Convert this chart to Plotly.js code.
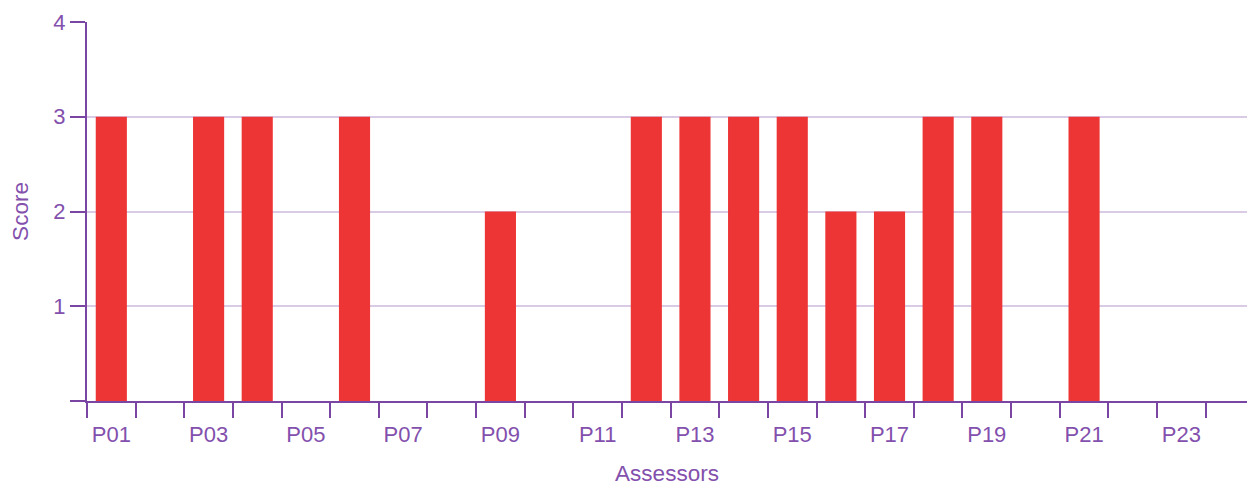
<!DOCTYPE html>
<html>
<head>
<meta charset="utf-8">
<script src="https://cdn.plot.ly/plotly-3.0.1.min.js"></script>
<style>html,body{margin:0;padding:0;background:#fff;}#chart{width:1247px;height:486px;}</style>
</head>
<body>
<div id="chart"></div>
<script>
const assessors = ["P01","P02","P03","P04","P05","P06","P07","P08","P09","P10","P11","P12","P13","P14","P15","P16","P17","P18","P19","P20","P21","P22","P23","P24"];
const scores = [3,0,3,3,0,3,0,0,2,0,0,3,3,3,3,2,2,3,3,0,3,0,0,0];
const tickLabels = ["P01","","P03","","P05","","P07","","P09","","P11","","P13","","P15","","P17","","P19","","P21","","P23",""];

const purple = "#7B45A3";
const textColor = "#8350AD";
const fontFam = "'Liberation Sans', Arial, sans-serif";

Plotly.newPlot("chart", [{
  type: "bar",
  x: assessors,
  y: scores,
  marker: {color: "#EE3535"},
  hoverinfo: "x+y"
}], {
  width: 1247, height: 486,
  margin: {l: 87, r: 0, t: 22, b: 85},
  paper_bgcolor: "#fff", plot_bgcolor: "#fff",
  bargap: 0.36,
  showlegend: false,
  font: {family: fontFam, color: textColor, size: 22},
  xaxis: {
    type: "category",
    range: [-0.5, 23.35],
    tickmode: "array",
    tickvals: assessors,
    ticktext: tickLabels,
    tickson: "boundaries",
    tickangle: 0,
    ticks: "outside", ticklen: 15, tickwidth: 2, tickcolor: purple,
    ticklabelstandoff: 13,
    showline: true, linecolor: purple, linewidth: 2,
    showgrid: false,
    tickfont: {size: 22, color: textColor},
    title: {text: "Assessors", font: {size: 22.5, color: textColor}, standoff: 24},
    automargin: false
  },
  yaxis: {
    range: [0, 4],
    tickvals: [0,1,2,3,4],
    ticktext: ["","1","2","3","4"],
    ticks: "outside", ticklen: 15, tickwidth: 2, tickcolor: purple,
    showline: true, linecolor: purple, linewidth: 2,
    showgrid: true, gridcolor: "#D9CAE6", gridwidth: 2,
    zeroline: false,
    tickfont: {size: 22, color: textColor},
    title: {text: "Score", font: {size: 22.5, color: textColor}, standoff: 18},
    automargin: false
  }
}, {displayModeBar: false, staticPlot: true});
</script>
</body>
</html>
